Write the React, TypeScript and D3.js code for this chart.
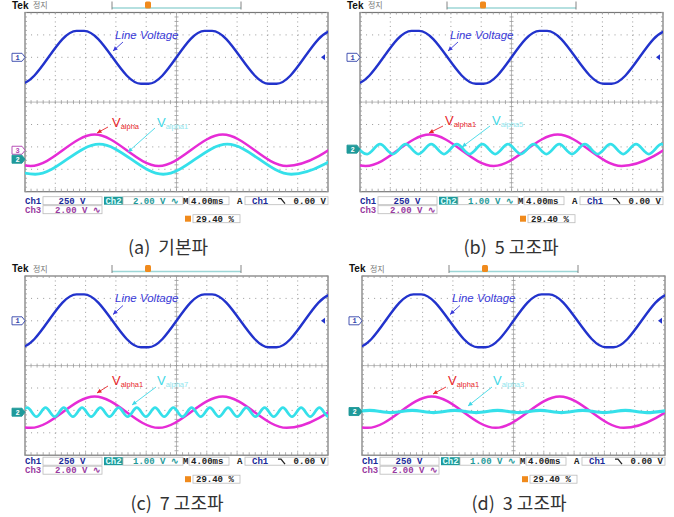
import * as d3 from "d3";

// time axis: 10 div x 4 ms, vertical: 8 div
const timeDomainMs = [0, 40];
const voltDivs = [-4, 4];

// Ch1 line voltage (div), slightly flattened peaks
const lineVoltage: [number, number][] = [
  [-1.6, -1.18], [-0.6, -1.18], [6.8, 1.18], [7.8, 1.18], [15.3, -1.18], [16.3, -1.18],
  [23.7, 1.18], [24.7, 1.18], [32.2, -1.18], [33.2, -1.18], [40.6, 1.18], [41.6, 1.18],
];

// Ch3 V_alpha fundamental (magenta), same in all panels
const valphaFund: [number, number][] = [
  [-7.7, 0.7], [0.75, -0.7], [9.2, 0.7], [17.65, -0.7], [26.1, 0.7], [34.55, -0.7], [43.0, 0.7],
];

// Ch2 traces (cyan)
const valpha1: [number, number][] = [
  [-7.1, 0.67], [1.35, -0.67], [9.8, 0.67], [18.25, -0.67], [26.7, 0.67], [35.15, -0.67], [43.6, 0.67],
];
const valpha5: [number, number][] = [
  [-0.74, 0.22], [0.95, -0.22], [2.64, 0.22], [4.33, -0.22], [6.02, 0.22], [7.71, -0.22],
  [9.4, 0.22], [11.09, -0.22], [12.78, 0.22], [14.47, -0.22], [16.16, 0.22], [17.85, -0.22],
  [19.54, 0.22], [21.23, -0.22], [22.92, 0.22], [24.61, -0.22], [26.3, 0.22], [27.99, -0.22],
  [29.68, 0.22], [31.37, -0.22], [33.06, 0.22], [34.75, -0.22], [36.44, 0.22], [38.13, -0.22],
  [39.82, 0.22], [41.51, -0.22],
];
const valpha7: [number, number][] = [
  [-0.91, -0.2], [0.3, 0.2], [1.51, -0.2], [2.71, 0.2], [3.92, -0.2], [5.12, 0.2], [6.33, -0.2],
  [7.53, 0.2], [8.74, -0.2], [9.94, 0.2], [11.15, -0.2], [12.35, 0.2], [13.56, -0.2], [14.76, 0.2],
  [15.97, -0.2], [17.17, 0.2], [18.38, -0.2], [19.58, 0.2], [20.79, -0.2], [21.99, 0.2],
  [23.2, -0.2], [24.4, 0.2], [25.61, -0.2], [26.81, 0.2], [28.02, -0.2], [29.22, 0.2],
  [30.43, -0.2], [31.63, 0.2], [32.84, -0.2], [34.04, 0.2], [35.25, -0.2], [36.45, 0.2],
  [37.66, -0.2], [38.86, 0.2], [40.07, -0.2], [41.27, 0.2],
];
const valpha3: [number, number][] = [
  [-1.82, -0.05], [1.0, 0.05], [3.82, -0.05], [6.63, 0.05], [9.45, -0.05], [12.26, 0.05],
  [15.08, -0.05], [17.89, 0.05], [20.71, -0.05], [23.52, 0.05], [26.34, -0.05], [29.15, 0.05],
  [31.97, -0.05], [34.78, 0.05], [37.6, -0.05], [40.41, 0.05],
];

const captions = ["(a)  기본파", "(b)  5 고조파", "(c)  7 고조파", "(d)  3 고조파"];
const ch2Scales = ["2.00 V", "1.00 V", "1.00 V", "1.00 V"];
const redSubs = ["alpha", "alpha1", "alpha1", "alpha1"];
const cyanSubs = ["alpha1", "alpha5", "alpha7", "alpha3"];
const cyanTraces = [valpha1, valpha5, valpha7, valpha3];
const ch2Positions = [-2.55, -2.1, -2.08, -2.05];
const ch3Positions = [-2.15, -2.15, -2.08, -2.08];

const W = 303;
const H = 179.2;
const BLUE = "#2233cc";
const MAGENTA = "#e62cd6";
const CYAN = "#35e0ea";
const TEAL = "#1f9a9a";
const MONO = "'Liberation Mono', 'DejaVu Sans Mono', monospace";

const layouts = [
  { x0: 25, y0: 12.5, statusDy: 5, capX: 168, capY: 254,
    red: [87, 114.5, 83, 114.5, 72, 120.5], cyan: [132, 114.5, 130, 115.5, 103, 139.5] },
  { x0: 360, y0: 12.5, statusDy: 5, capX: 511, capY: 254,
    red: [85, 112.5, 83, 113.5, 69, 120.5], cyan: [132, 112.5, 130, 113.5, 102, 134.5] },
  { x0: 25, y0: 276, statusDy: 2, capX: 177, capY: 510,
    red: [87, 109, 83, 110, 72, 117], cyan: [132, 109, 131, 111, 107, 129] },
  { x0: 362, y0: 276, statusDy: 2, capX: 519, capY: 510,
    red: [86, 109, 84, 111, 71, 118], cyan: [131, 109, 130, 111, 106, 130] },
];

const Arrow = ({ x1, y1, x2, y2, color }) => {
  const a = Math.atan2(y2 - y1, x2 - x1);
  const L = 5;
  const p1 = [x2 - L * Math.cos(a - 0.45), y2 - L * Math.sin(a - 0.45)];
  const p2 = [x2 - L * Math.cos(a + 0.45), y2 - L * Math.sin(a + 0.45)];
  return (
    <g>
      <line x1={x1} y1={y1} x2={x2} y2={y2} stroke={color} strokeWidth={0.9} />
      <path d={`M${x2},${y2}L${p1[0]},${p1[1]}L${p2[0]},${p2[1]}Z`} fill={color} />
    </g>
  );
};

const Marker = ({ x, y, label, fill, stroke, color }) => (
  <g>
    <path
      d={`M${x - 13},${y - 4}L${x - 3},${y - 4}L${x},${y}L${x - 3},${y + 4}L${x - 13},${y + 4}Z`}
      fill={fill}
      stroke={stroke}
      strokeWidth={0.9}
    />
    <text x={x - 7.5} y={y + 2.6} fontSize={7} fontWeight="bold" fontFamily={MONO} fill={color} textAnchor="middle">
      {label}
    </text>
  </g>
);

const Panel = ({ i }) => {
  const L = layouts[i];
  const x = d3.scaleLinear().domain(timeDomainMs).range([0, W]);
  const y = d3.scaleLinear().domain(voltDivs).range([H, 0]);
  const trace = (pos: number) =>
    d3
      .line<[number, number]>()
      .x((d) => x(d[0]))
      .y((d) => y(d[1] + pos))
      .curve(d3.curveMonotoneX);

  const ch1 = 2;
  const ch2 = ch2Positions[i];
  const ch3 = ch3Positions[i];
  const clipId = `clip${i}`;

  const vDivs = d3.range(1, 10).filter((k) => k !== 5);
  const hDivs = d3.range(1, 8).filter((k) => k !== 4);
  const minorX = d3.range(0, 51).map((k) => (k * W) / 50);
  const minorY = d3.range(0, 41).map((k) => (k * H) / 40);

  const sy = H + L.statusDy; // status row top
  const rowH = 9;
  const box = (bx: number, by: number, bw: number) => (
    <rect x={bx} y={by} width={bw} height={8} fill="#fff" stroke="#bbb" strokeWidth={0.8} />
  );
  const txt = (tx: number, ty: number, s: string, c: string, anchor = "start") => (
    <text x={tx} y={ty + 7} fontSize={9} fontWeight="bold" fontFamily={MONO} fill={c} textAnchor={anchor}>
      {s}
    </text>
  );

  return (
    <g>
      <g transform={`translate(${L.x0},${L.y0})`}>
        <defs>
          <clipPath id={clipId}>
            <rect x={0} y={0} width={W} height={H} />
          </clipPath>
        </defs>
        {/* top bar */}
        <text x={-13} y={-4} fontSize={10} fontWeight="bold" fontFamily="'Liberation Sans', Arial" fill="#111">
          Tek
        </text>
        <text x={8} y={-4.5} fontSize={8} fontFamily="'Noto Sans CJK KR'" fill="#777">
          정지
        </text>
        <line x1={87} x2={216} y1={-4.5} y2={-4.5} stroke="#9cd6d6" strokeWidth={1.6} />
        <line x1={87} x2={87} y1={-11} y2={-3} stroke="#777" strokeWidth={0.9} />
        <line x1={216} x2={216} y1={-11} y2={-3} stroke="#777" strokeWidth={0.9} />
        <rect x={120} y={-11} width={6} height={7} rx={1.5} fill="#f08a1c" />
        <rect x={86} y={1.5} width={7} height={8} rx={1.5} fill="#f08a1c" />
        <text x={89.5} y={8.3} fontSize={7} fontWeight="bold" fontFamily={MONO} fill="#fff" textAnchor="middle">
          T
        </text>

        {/* screen */}
        <rect x={0} y={0} width={W} height={H} fill="#fff" stroke="#777" strokeWidth={1.2} />
        {vDivs.map((k) => (
          <line key={"v" + k} x1={(k * W) / 10} x2={(k * W) / 10} y1={0} y2={H} stroke="#999"
            strokeWidth={1} strokeDasharray={`1 ${H / 40 - 1}`} />
        ))}
        {hDivs.map((k) => (
          <line key={"h" + k} x1={0} x2={W} y1={(k * H) / 8} y2={(k * H) / 8} stroke="#999"
            strokeWidth={1} strokeDasharray={`1 ${W / 50 - 1}`} />
        ))}
        <line x1={0} x2={W} y1={H / 2} y2={H / 2} stroke="#aaa" strokeWidth={0.8} />
        <line x1={W / 2} x2={W / 2} y1={0} y2={H} stroke="#aaa" strokeWidth={0.8} />
        {minorX.map((mx, k) => (
          <g key={"mx" + k} stroke="#999" strokeWidth={0.8}>
            <line x1={mx} x2={mx} y1={H / 2 - 2} y2={H / 2 + 2} />
            <line x1={mx} x2={mx} y1={H - 3} y2={H} />
            <line x1={mx} x2={mx} y1={0} y2={2} />
          </g>
        ))}
        {minorY.map((my, k) => (
          <g key={"my" + k} stroke="#999" strokeWidth={0.8}>
            <line x1={W / 2 - 2} x2={W / 2 + 2} y1={my} y2={my} />
            <line x1={0} x2={2} y1={my} y2={my} />
            <line x1={W - 2} x2={W} y1={my} y2={my} />
          </g>
        ))}

        {/* traces */}
        <g clipPath={`url(#${clipId})`} fill="none">
          <path d={trace(ch1)(lineVoltage)} stroke={BLUE} strokeWidth={2.4} />
          <path d={trace(ch3)(valphaFund)} stroke={MAGENTA} strokeWidth={2.5} />
          <path d={trace(ch2)(cyanTraces[i])} stroke={CYAN} strokeWidth={i === 3 ? 3.2 : 2.8} />
        </g>

        {/* markers */}
        <Marker x={0} y={y(ch1)} label="1" fill="#fff" stroke="#3344aa" color="#3344aa" />
        {i === 0 && <Marker x={0} y={y(ch3)} label="3" fill="#fff" stroke="#b040b0" color="#b040b0" />}
        <Marker x={0} y={y(ch2)} label="2" fill={TEAL} stroke={TEAL} color="#fff" />
        <path d={`M${W - 7},${y(ch1)}L${W - 3},${y(ch1) - 3}L${W - 3},${y(ch1) + 3}Z`} fill={BLUE} />

        {/* annotations */}
        <text x={90} y={26} fontSize={11.5} fontStyle="italic" fontFamily="'Liberation Sans', Arial" fill="#3b3bd8">
          Line Voltage
        </text>
        <Arrow x1={98} y1={29.5} x2={88} y2={38.5} color="#3b3bd8" />
        <text x={L.red[0]} y={L.red[1]} fontFamily="'Liberation Sans', Arial" fill="#e8262a">
          <tspan fontSize={13}>V</tspan>
          <tspan fontSize={7.5} dy={1.5}>{redSubs[i]}</tspan>
        </text>
        <Arrow x1={L.red[2]} y1={L.red[3]} x2={L.red[4]} y2={L.red[5]} color="#e8262a" />
        <text x={L.cyan[0]} y={L.cyan[1]} fontFamily="'Liberation Sans', Arial" fill="#3fd8e6">
          <tspan fontSize={13}>V</tspan>
          <tspan fontSize={7.5} dy={1.5} fill="#8fe6ee">{cyanSubs[i]}</tspan>
        </text>
        <Arrow x1={L.cyan[2]} y1={L.cyan[3]} x2={L.cyan[4]} y2={L.cyan[5]} color="#3fd8e6" />

        {/* status rows */}
        {txt(0, sy, "Ch1", "#1a2a9a")}
        {box(18, sy, 59)}
        {txt(47, sy, "250 V", "#1a2a9a", "middle")}
        <rect x={79} y={sy} width={19} height={8} fill={TEAL} />
        {txt(88.5, sy, "Ch2", "#dff", "middle")}
        {box(98, sy, 60)}
        {txt(108, sy, `${ch2Scales[i]} ∿`, TEAL)}
        {txt(158, sy, "M", "#222")}
        {box(164, sy, 40)}
        {txt(166, sy, "4.00ms", "#222")}
        {txt(212, sy, "A", "#222")}
        {box(220, sy, 83)}
        {txt(227, sy, "Ch1", "#1a2a9a")}
        <path d={`M${253},${sy + 2}L${256},${sy + 2}L${260},${sy + 7}`} stroke="#222" strokeWidth={1.3} fill="none" />
        {txt(301, sy, "0.00 V", "#222", "end")}
        {txt(0, sy + rowH, "Ch3", "#9a3aa0")}
        {box(18, sy + rowH, 59)}
        {txt(30, sy + rowH, "2.00 V ∿", "#9a3aa0")}
        <rect x={160} y={sy + 2 * rowH + 1} width={6} height={6} fill="#f08a1c" />
        {box(168, sy + 2 * rowH, 47)}
        {txt(171, sy + 2 * rowH, "29.40 %", "#222")}
      </g>
      <text x={L.capX} y={L.capY} fontSize={18} fontFamily="'Noto Sans CJK KR'" fill="#333" textAnchor="middle"
        style={{ whiteSpace: "pre" }}>
        {captions[i]}
      </text>
    </g>
  );
};

export default function App() {
  return (
    <svg width={674} height={517} style={{ position: "absolute", left: 0, top: 0, background: "#fff" }}>
      <rect width={674} height={517} fill="#fff" />
      {[0, 1, 2, 3].map((i) => (
        <Panel key={i} i={i} />
      ))}
    </svg>
  );
}
